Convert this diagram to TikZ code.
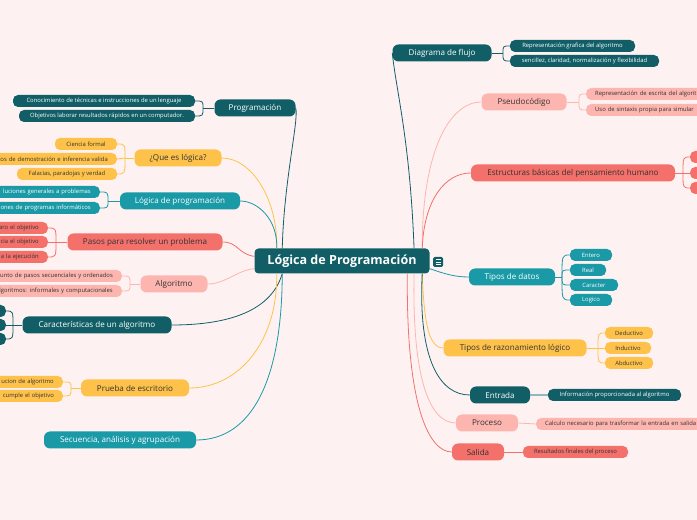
\documentclass[tikz,border=0pt]{standalone}
\usepackage{fontspec}
\setmainfont{Open Sans}
\usepackage{tikz}
\usetikzlibrary{positioning}

\definecolor{mmdark}{HTML}{125E67}
\definecolor{mmteal}{HTML}{1A99A7}
\definecolor{mmcoral}{HTML}{F3706B}
\definecolor{mmpink}{HTML}{FDB5AF}
\definecolor{mmyellow}{HTML}{FEC24B}
\definecolor{mmink}{HTML}{333333}
\definecolor{mmbg}{HTML}{FDF2F1}

\begin{document}
\begin{tikzpicture}[line join=bevel,
  root/.style={fill=mmdark,text=white,rounded corners=4bp,minimum width=175bp,minimum height=25bp,inner sep=0pt,font=\fontsize{12.6}{15}\selectfont\bfseries},
  topic/.style={rounded corners=6bp,minimum height=17bp,inner sep=0pt,font=\fontsize{8.1}{9}\selectfont},
  leaf/.style={rounded corners=5bp,minimum height=12bp,inner sep=0pt,inner xsep=9bp,font=\fontsize{5.9}{7}\selectfont},
  darkfill/.style={fill=mmdark,text=white},
  tealfill/.style={fill=mmteal,text=white},
  coralfill/.style={fill=mmcoral,text=mmink},
  pinkfill/.style={fill=mmpink,text=mmink},
  yellowfill/.style={fill=mmyellow,text=mmink},
  darkline/.style={draw=mmdark,line width=0.8bp},
  tealline/.style={draw=mmteal,line width=0.8bp},
  coralline/.style={draw=mmcoral,line width=0.8bp},
  pinkline/.style={draw=mmpink,line width=0.8bp},
  yellowline/.style={draw=mmyellow,line width=0.8bp},
]
\useasboundingbox (0bp,0bp) rectangle (697bp,520bp);
\fill [mmbg] (0bp,0bp) rectangle (697bp,520bp);
%%
\node (root) at (342bp,259bp) [root] {Lógica de Programación};
\node (note) at (438bp,258bp) [fill=mmdark,rounded corners=1.5bp,minimum size=10bp,inner sep=0pt] {};
\draw [white,line width=0.7bp] ([xshift=-2.5bp,yshift=2.3bp]note.center) -- ([xshift=2.5bp,yshift=2.3bp]note.center);
\draw [white,line width=0.7bp] ([xshift=-2.5bp]note.center) -- ([xshift=2.5bp]note.center);
\draw [white,line width=0.7bp] ([xshift=-2.5bp,yshift=-2.3bp]note.center) -- ([xshift=2.5bp,yshift=-2.3bp]note.center);
%% left side
\node (programacion) at (255bp,412bp) [topic,darkfill,minimum width=81bp] {Programación};
  \node (conocimiento) at (104bp,419bp) [leaf,darkfill,minimum width=182bp] {Conocimiento de técnicas e instrucciones de un lenguaje};
  \node (objetivos) at (107bp,404bp) [leaf,darkfill,minimum width=176bp] {Objetivos laborar resultados rápidos en un computador.};
\node (queeslogica) at (178bp,362bp) [topic,yellowfill,minimum width=87bp] {¿Que es lógica?};
  \node (ciencia) at (86bp,376bp) [leaf,yellowfill,minimum width=62bp] {Ciencia formal};
  \node (demostracion) at (117bp,361bp) [leaf,yellowfill,anchor=east,text width=150bp,align=right] {tos de demostración e inferencia valida};
  \node (falacias) at (67bp,346bp) [leaf,yellowfill,minimum width=100bp] {Falacias, paradojas y verdad};
\node (logicaprog) at (180bp,319bp) [topic,tealfill,minimum width=120bp] {Lógica de programación};
  \node (soluciones) at (100bp,328bp) [leaf,tealfill,anchor=east,text width=150bp,align=right] {luciones generales a problemas};
  \node (acciones) at (100bp,312bp) [leaf,tealfill,anchor=east,text width=150bp,align=right] {ciones de programas informáticos};
\node (pasos) at (145bp,278bp) [topic,coralfill,minimum width=155bp] {Pasos para resolver un problema};
  \node (pasos1) at (48bp,292bp) [leaf,coralfill,anchor=east,text width=80bp,align=right] {aro el objetivo};
  \node (pasos2) at (48bp,278bp) [leaf,coralfill,anchor=east,text width=80bp,align=right] {cia el objetivo};
  \node (pasos3) at (48bp,263bp) [leaf,coralfill,anchor=east,text width=80bp,align=right] {a la ejecución};
\node (algoritmo) at (174bp,236bp) [topic,pinkfill,minimum width=67bp] {Algoritmo};
  \node (conjunto) at (122bp,244bp) [leaf,pinkfill,anchor=east,text width=150bp,align=right] {unto de pasos secuenciales y ordenados};
  \node (tiposalg) at (122bp,229bp) [leaf,pinkfill,anchor=east,text width=150bp,align=right] {lgoritmos: informales y computacionales};
\node (caracteristicas) at (97bp,195bp) [topic,darkfill,minimum width=149bp] {Características de un algoritmo};
  \node (car1) at (6bp,209bp) [leaf,darkfill,anchor=east,minimum width=30bp] {};
  \node (car2) at (6bp,195bp) [leaf,darkfill,anchor=east,minimum width=30bp] {};
  \node (car3) at (6bp,181bp) [leaf,darkfill,anchor=east,minimum width=30bp] {};
\node (prueba) at (135bp,132bp) [topic,yellowfill,minimum width=108bp] {Prueba de escritorio};
  \node (prueba1) at (63bp,138bp) [leaf,yellowfill,anchor=east,text width=100bp,align=right] {ucion de algoritmo};
  \node (prueba2) at (63bp,124bp) [leaf,yellowfill,anchor=east,text width=100bp,align=right] {cumple el objetivo};
\node (secuencia) at (120bp,80bp) [topic,tealfill,minimum width=152bp] {Secuencia, análisis y agrupación};
%% right side
\node (diagrama) at (442bp,467bp) [topic,darkfill,minimum width=99bp] {Diagrama de flujo};
  \node (grafica) at (572.5bp,474bp) [leaf,darkfill,minimum width=125bp] {Representación grafica del algoritmo};
  \node (sencillez) at (584.5bp,459bp) [leaf,darkfill,minimum width=149bp] {sencillez, claridad, normalización y flexibilidad};
\node (pseudocodigo) at (524bp,418bp) [topic,pinkfill,minimum width=85bp] {Pseudocódigo};
  \node (escrita) at (586bp,426bp) [leaf,pinkfill,anchor=west,text width=150bp,align=left] {Representación de escrita del algorit};
  \node (sintaxis) at (586bp,410bp) [leaf,pinkfill,anchor=west,text width=150bp,align=left] {Uso de sintaxis propia para simular};
\node (estructuras) at (573bp,347bp) [topic,coralfill,minimum width=204bp] {Estructuras básicas del pensamiento humano};
  \node (est1) at (690bp,363bp) [leaf,coralfill,anchor=west,minimum width=30bp] {};
  \node (est2) at (690bp,347bp) [leaf,coralfill,anchor=west,minimum width=30bp] {};
  \node (est3) at (690bp,332bp) [leaf,coralfill,anchor=west,minimum width=30bp] {};
\node (tiposdatos) at (512bp,243bp) [topic,tealfill,minimum width=86bp] {Tipos de datos};
  \node (entero) at (591bp,265bp) [leaf,tealfill,minimum width=42bp] {Entero};
  \node (real) at (588bp,250bp) [leaf,tealfill,minimum width=36bp] {Real};
  \node (caracter) at (594bp,235bp) [leaf,tealfill,minimum width=48bp] {Caracter};
  \node (logico) at (591bp,220bp) [leaf,tealfill,minimum width=42bp] {Logico};
\node (razonamiento) at (515bp,172bp) [topic,yellowfill,minimum width=143bp] {Tipos de razonamiento lógico};
  \node (deductivo) at (629bp,187bp) [leaf,yellowfill,minimum width=48bp] {Deductivo};
  \node (inductivo) at (628bp,172bp) [leaf,yellowfill,minimum width=46bp] {Inductivo};
  \node (abductivo) at (629bp,157bp) [leaf,yellowfill,minimum width=48bp] {Abductivo};
\node (entrada) at (500bp,125bp) [topic,darkfill,minimum width=60bp] {Entrada};
  \node (informacion) at (614.5bp,125bp) [leaf,darkfill,minimum width=133bp] {Información proporcionada al algoritmo};
\node (proceso) at (487bp,97bp) [topic,pinkfill,minimum width=62bp] {Proceso};
  \node (calculo) at (536bp,96bp) [leaf,pinkfill,anchor=west,text width=190bp,align=left] {Calculo necesario para trasformar la entrada en salida};
\node (salida) at (478bp,68bp) [topic,coralfill,minimum width=52bp] {Salida};
  \node (resultados) at (575.5bp,68bp) [leaf,coralfill,minimum width=105bp] {Resultados finales del proceso};
%% branches of the root
\draw [darkline] (root.168) .. controls (284bp,340bp) and (299bp,400bp) .. (programacion.east);
\draw [yellowline] (root.169) .. controls (278bp,320bp) and (252bp,362bp) .. (queeslogica.east);
\draw [tealline] (root.169) .. controls (278bp,300bp) and (258bp,319bp) .. (logicaprog.east);
\draw [coralline] (root.177) .. controls (238bp,266bp) and (238bp,278bp) .. (pasos.east);
\draw [pinkline] (root.185) .. controls (238bp,250bp) and (225bp,236bp) .. (algoritmo.east);
\draw [darkline] (root.192) .. controls (270bp,205bp) and (220bp,195bp) .. (caracteristicas.east);
\draw [yellowline] (root.191) .. controls (278bp,180bp) and (240bp,132bp) .. (prueba.east);
\draw [tealline] (root.192) .. controls (282bp,140bp) and (252bp,80bp) .. (secuencia.east);
\draw [darkline] (root.10) .. controls (410bp,380bp) and (396bp,430bp) .. (diagrama.west);
\draw [pinkline] (root.9) .. controls (422bp,370bp) and (450bp,418bp) .. (pseudocodigo.west);
\draw [coralline] (root.9) .. controls (424bp,320bp) and (445bp,347bp) .. (estructuras.west);
\draw [tealline] (root.355) .. controls (445bp,246bp) and (455bp,243bp) .. (tiposdatos.west);
\draw [yellowline] (root.351.5) .. controls (424bp,200bp) and (428bp,172bp) .. (razonamiento.west);
\draw [darkline] (root.351) .. controls (418bp,160bp) and (440bp,125bp) .. (entrada.west);
\draw [pinkline] (root.350) .. controls (412bp,140bp) and (430bp,97bp) .. (proceso.west);
\draw [coralline] (root.349) .. controls (406bp,110bp) and (430bp,68bp) .. (salida.west);
%% leaves
\coordinate (programacion-f) at (203bp,412bp);
\draw [darkline] (programacion.west) -- (programacion-f);
\draw [darkline] (programacion-f) .. controls (203bp,419bp) .. (conocimiento.east);
\draw [darkline] (programacion-f) .. controls (203bp,404bp) .. (objetivos.east);
\coordinate (queeslogica-f) at (125bp,362bp);
\draw [yellowline] (queeslogica.west) -- (queeslogica-f);
\draw [yellowline] (queeslogica-f) .. controls (125bp,376bp) .. (ciencia.east);
\draw [yellowline] (queeslogica-f) -- (demostracion.east);
\draw [yellowline] (queeslogica-f) .. controls (125bp,346bp) .. (falacias.east);
\coordinate (logicaprog-f) at (108bp,319bp);
\draw [tealline] (logicaprog.west) -- (logicaprog-f);
\draw [tealline] (logicaprog-f) .. controls (108bp,328bp) .. (soluciones.east);
\draw [tealline] (logicaprog-f) .. controls (108bp,312bp) .. (acciones.east);
\coordinate (pasos-f) at (56bp,278bp);
\draw [coralline] (pasos.west) -- (pasos-f);
\draw [coralline] (pasos-f) .. controls (56bp,292bp) .. (pasos1.east);
\draw [coralline] (pasos-f) -- (pasos2.east);
\draw [coralline] (pasos-f) .. controls (56bp,263bp) .. (pasos3.east);
\coordinate (algoritmo-f) at (130bp,236bp);
\draw [pinkline] (algoritmo.west) -- (algoritmo-f);
\draw [pinkline] (algoritmo-f) .. controls (130bp,244bp) .. (conjunto.east);
\draw [pinkline] (algoritmo-f) .. controls (130bp,229bp) .. (tiposalg.east);
\coordinate (caracteristicas-f) at (13bp,195bp);
\draw [darkline] (caracteristicas.west) -- (caracteristicas-f);
\draw [darkline] (caracteristicas-f) .. controls (13bp,209bp) .. (car1.east);
\draw [darkline] (caracteristicas-f) -- (car2.east);
\draw [darkline] (caracteristicas-f) .. controls (13bp,181bp) .. (car3.east);
\coordinate (prueba-f) at (71bp,132bp);
\draw [yellowline] (prueba.west) -- (prueba-f);
\draw [yellowline] (prueba-f) .. controls (71bp,138bp) .. (prueba1.east);
\draw [yellowline] (prueba-f) .. controls (71bp,124bp) .. (prueba2.east);
\coordinate (diagrama-f) at (503bp,467bp);
\draw [darkline] (diagrama.east) -- (diagrama-f);
\draw [darkline] (diagrama-f) .. controls (503bp,474bp) .. (grafica.west);
\draw [darkline] (diagrama-f) .. controls (503bp,459bp) .. (sencillez.west);
\coordinate (pseudocodigo-f) at (579bp,418bp);
\draw [pinkline] (pseudocodigo.east) -- (pseudocodigo-f);
\draw [pinkline] (pseudocodigo-f) .. controls (579bp,426bp) .. (escrita.west);
\draw [pinkline] (pseudocodigo-f) .. controls (579bp,410bp) .. (sintaxis.west);
\coordinate (estructuras-f) at (683bp,347bp);
\draw [coralline] (estructuras.east) -- (estructuras-f);
\draw [coralline] (estructuras-f) .. controls (683bp,363bp) .. (est1.west);
\draw [coralline] (estructuras-f) -- (est2.west);
\draw [coralline] (estructuras-f) .. controls (683bp,332bp) .. (est3.west);
\coordinate (tiposdatos-f) at (562bp,243bp);
\draw [tealline] (tiposdatos.east) -- (tiposdatos-f);
\draw [tealline] (tiposdatos-f) .. controls (562bp,265bp) .. (entero.west);
\draw [tealline] (tiposdatos-f) .. controls (562bp,250bp) .. (real.west);
\draw [tealline] (tiposdatos-f) .. controls (562bp,235bp) .. (caracter.west);
\draw [tealline] (tiposdatos-f) .. controls (562bp,220bp) .. (logico.west);
\coordinate (razonamiento-f) at (598bp,172bp);
\draw [yellowline] (razonamiento.east) -- (razonamiento-f);
\draw [yellowline] (razonamiento-f) .. controls (598bp,187bp) .. (deductivo.west);
\draw [yellowline] (razonamiento-f) -- (inductivo.west);
\draw [yellowline] (razonamiento-f) .. controls (598bp,157bp) .. (abductivo.west);
\draw [draw=mmdark!45,line width=2.2bp] (entrada.east) -- (informacion.west);
\draw [pinkline] (proceso.east) -- (calculo.west);
\draw [coralline] (salida.east) -- (resultados.west);
%
\end{tikzpicture}
\end{document}
